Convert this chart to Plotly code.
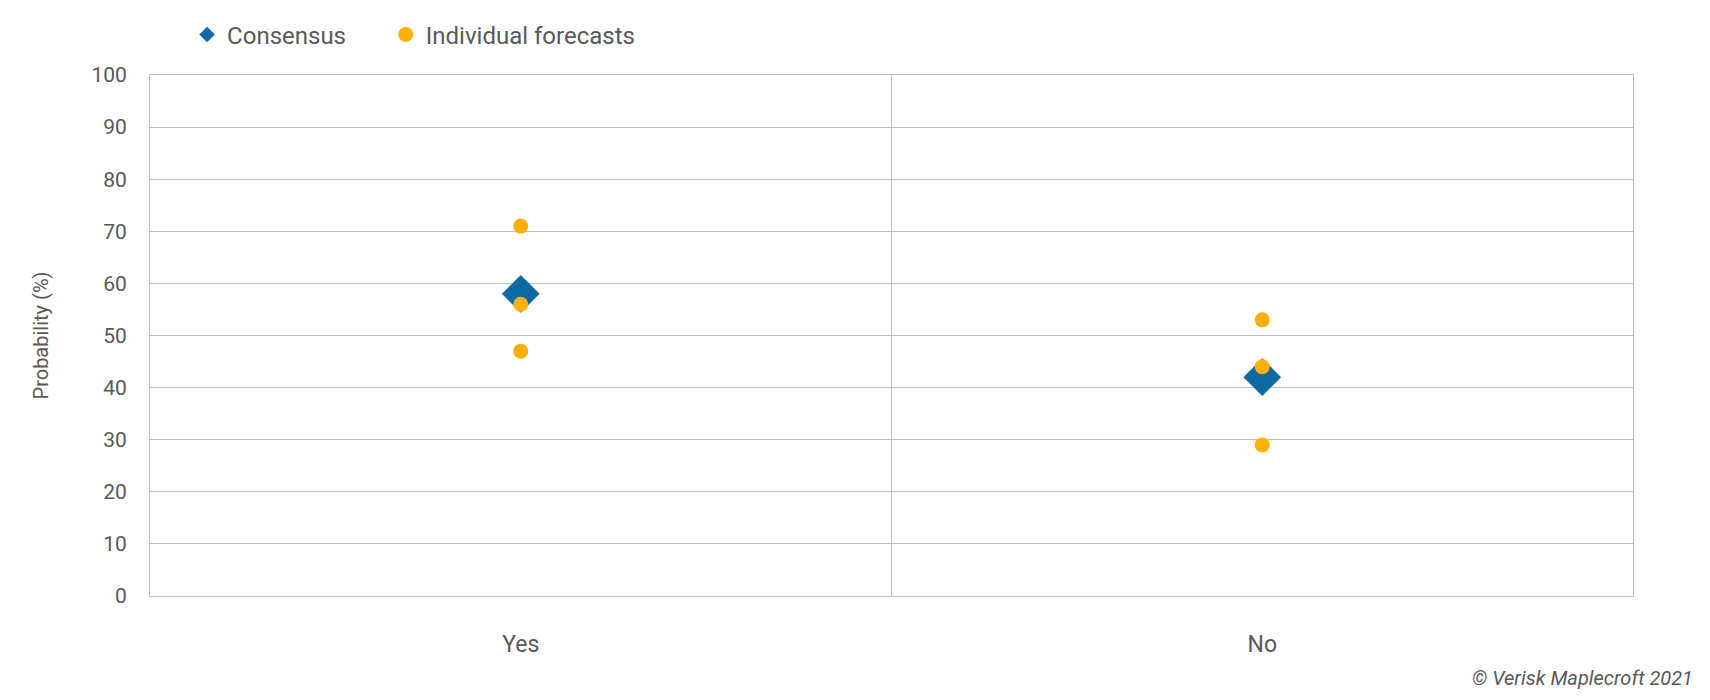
import plotly.graph_objects as go

# Poll outcome categories
categories = ["Yes", "No"]

# Consensus probability per category
consensus = [58, 42]

# Individual forecaster probabilities per category
individual_yes = [71, 56, 47]
individual_no = [53, 44, 29]

y_ticks = [0, 10, 20, 30, 40, 50, 60, 70, 80, 90, 100]

BLUE = "#0F69A5"
ORANGE = "#FFB000"
GRID = "#BFBFBF"
TEXT = "#595959"
FONT = "Roboto"

ind_x = [categories[0]] * len(individual_yes) + [categories[1]] * len(individual_no)
ind_y = individual_yes + individual_no

fig = go.Figure()
fig.add_trace(go.Scatter(
    x=categories, y=consensus, mode="markers", name="Consensus",
    marker=dict(symbol="diamond", size=29, color=BLUE), legend="legend",
))
fig.add_trace(go.Scatter(
    x=ind_x, y=ind_y, mode="markers", name="Individual forecasts",
    marker=dict(symbol="circle", size=15, color=ORANGE), legend="legend2",
))

# page body has an 8px margin, so the figure is a bit smaller than the window
fig.update_layout(
    width=1702, height=692,
    margin=dict(l=142, r=77, t=67, b=104, autoexpand=False),
    paper_bgcolor="white", plot_bgcolor="white",
    font=dict(family=FONT, size=20, color=TEXT),
    showlegend=True,
    legend=dict(
        orientation="h", x=0.025, y=1.077, xanchor="left", yanchor="middle",
        font=dict(size=24, color=TEXT), itemsizing="constant",
    ),
    legend2=dict(
        orientation="h", x=0.159, y=1.077, xanchor="left", yanchor="middle",
        font=dict(size=24, color=TEXT), itemsizing="trace",
    ),
    annotations=[dict(
        text="<i>© Verisk Maplecroft 2021</i>", xref="paper", yref="paper",
        x=1.042, y=-0.158, xanchor="right", yanchor="middle", showarrow=False,
        font=dict(size=20, color=TEXT),
    )],
)

fig.update_xaxes(
    type="category", categoryorder="array", categoryarray=categories,
    range=[-0.5, 1.5], tickson="boundaries", showgrid=True, gridcolor=GRID,
    gridwidth=1, showline=True, linecolor=GRID, linewidth=1, mirror=True,
    ticks="", ticklabelstandoff=27, tickfont=dict(size=23, color=TEXT),
    zeroline=False,
)
fig.update_yaxes(
    range=[0, 100], tickvals=y_ticks, showgrid=True, gridcolor=GRID,
    gridwidth=1, showline=True, linecolor=GRID, linewidth=1, mirror=True,
    ticks="", ticklabelstandoff=18, tickfont=dict(size=21, color=TEXT),
    zeroline=False,
    title=dict(text="Probability (%)", standoff=37, font=dict(size=20, color=TEXT)),
)

fig.write_html("out.html")
